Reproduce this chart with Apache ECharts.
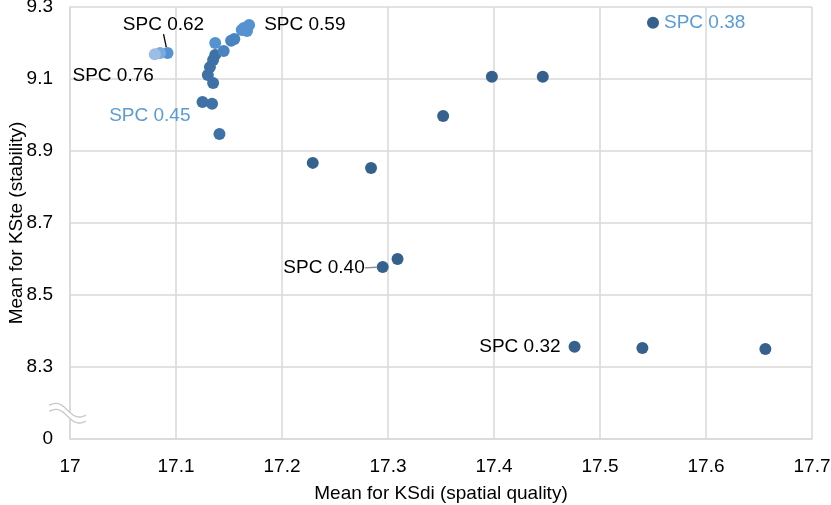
<!DOCTYPE html>
<html>
<head>
<meta charset="utf-8">
<script src="https://cdn.jsdelivr.net/npm/echarts@6/dist/echarts.min.js"></script>
<style>
  html, body { margin: 0; padding: 0; background: #fff; }
  #chart { width: 831px; height: 505px; }
</style>
</head>
<body>
<div id="chart"></div>
<script>
// mean KSdi (x) and mean KSte (y) per run
const ksdi = [17.229, 17.284, 17.295, 17.309, 17.352, 17.398, 17.446, 17.550, 17.476, 17.540, 17.656,
  17.141, 17.125, 17.134, 17.135, 17.130, 17.132, 17.135, 17.137, 17.145, 17.152, 17.155,
  17.137, 17.162, 17.164, 17.167, 17.169, 17.092, 17.085, 17.080];
const kste = [8.867, 8.853, 8.578, 8.600, 8.997, 9.106, 9.106, 9.256, 8.356, 8.353, 8.350,
  8.947, 9.036, 9.031, 9.089, 9.111, 9.133, 9.153, 9.167, 9.178, 9.206, 9.211,
  9.200, 9.236, 9.242, 9.233, 9.250, 9.172, 9.172, 9.169];
// shade group of each point (darker = lower SPC)
const shade = [0, 0, 0, 0, 0, 0, 0, 0, 0, 0, 0,
  1, 1, 1, 1, 1, 1, 1, 1, 2, 2, 2,
  3, 3, 3, 3, 3, 3, 4, 5];
const notes = ['', '', 'SPC 0.40', '', '', '', '', 'SPC 0.38', 'SPC 0.32', '', '',
  '', 'SPC 0.45', '', '', '', '', '', '', '', '', '',
  '', '', '', '', 'SPC 0.59', 'SPC 0.62', '', 'SPC 0.76'];

const xTicks = { min: 17, max: 17.7, step: 0.1 };
const yTicks = { min: 8.1, max: 9.3, step: 0.2, breakLabel: '0' };

const shadeColors = ['#35618c', '#3e71a5', '#4a84c0', '#5592d0', '#7ea9dd', '#9cbde6'];
const font = "'Liberation Sans', Arial, Helvetica, sans-serif";
const black = '#000';
const lightBlue = '#5b9bd5';

// where each note sits relative to its point
const notePlace = {
  'SPC 0.40': { position: 'left', distance: 3, color: black, dx: -9, dy: 1, line: '#8c8c8c' },
  'SPC 0.38': { position: 'right', distance: 5, color: lightBlue },
  'SPC 0.32': { position: 'left', distance: 8, color: black },
  'SPC 0.45': { position: 'left', distance: 6, color: lightBlue, dy: 14 },
  'SPC 0.59': { position: 'right', distance: 9, color: black },
  'SPC 0.62': { position: 'top', distance: 4, color: black, dx: -4, dy: -9, line: '#000' },
  'SPC 0.76': { position: 'left', distance: 5, color: black, dx: 10, dy: 22 }
};

const points = ksdi.map((x, i) => {
  const item = {
    value: [x, kste[i]],
    itemStyle: { color: shadeColors[shade[i]], opacity: 1 }
  };
  const n = notes[i];
  if (n) {
    const p = notePlace[n];
    item.label = {
      show: true,
      formatter: n,
      position: p.position,
      distance: p.distance,
      color: p.color,
      fontSize: 19,
      fontFamily: font
    };
    if (p.line) {
      item.labelLine = { show: true, length2: 0, lineStyle: { color: p.line, width: 1.3 } };
    }
  }
  return item;
});

const chart = echarts.init(document.getElementById('chart'));

chart.setOption({
  animation: false,
  backgroundColor: '#fff',
  textStyle: { fontFamily: font },
  grid: { left: 70, right: 19, top: 7, bottom: 66, outerBoundsMode: 'none' },
  xAxis: {
    type: 'value',
    min: xTicks.min,
    max: xTicks.max,
    interval: xTicks.step,
    name: 'Mean for KSdi (spatial quality)',
    nameLocation: 'middle',
    nameGap: 45,
    nameMoveOverlap: false,
    nameTextStyle: { color: '#000', fontSize: 19, fontFamily: font },
    axisLine: { show: true, lineStyle: { color: '#d9d9d9', width: 1.5 } },
    axisTick: { show: false },
    axisLabel: {
      color: '#000', fontSize: 19, fontFamily: font, margin: 18,
      formatter: v => String(+v.toFixed(1))
    },
    splitLine: { show: true, lineStyle: { color: '#d9d9d9', width: 1.5 } }
  },
  yAxis: {
    type: 'value',
    min: yTicks.min,
    max: yTicks.max,
    interval: yTicks.step,
    name: 'Mean for KSte (stability)',
    nameLocation: 'middle',
    nameGap: 44,
    nameMoveOverlap: false,
    nameTextStyle: { color: '#000', fontSize: 19, fontFamily: font },
    axisLine: { show: true, lineStyle: { color: '#d9d9d9', width: 1.5 } },
    axisTick: { show: false },
    axisLabel: {
      color: '#000', fontSize: 19, fontFamily: font, margin: 17,
      formatter: v => (v < yTicks.min + yTicks.step / 2 ? yTicks.breakLabel : v.toFixed(1))
    },
    splitLine: { show: true, lineStyle: { color: '#d9d9d9', width: 1.5 } }
  },
  series: [
    {
      type: 'scatter',
      symbolSize: 12,
      data: points,
      labelLayout: function (params) {
        const n = notes[params.dataIndex];
        const p = n && notePlace[n];
        if (p && (p.dx || p.dy)) return { dx: p.dx || 0, dy: p.dy || 0 };
        return {};
      }
    }
  ]
});

// axis break mark between the lowest tick and the data range
function drawBreak() {
  const mid = chart.convertToPixel({ gridIndex: 0 }, [xTicks.min, yTicks.min + yTicks.step * 0.4]);
  const cx = mid[0], cy = mid[1];
  const wave = (shift) => {
    const pts = [];
    for (let k = 0; k <= 24; k++) {
      const t = k / 24;
      pts.push([cx - 21 + 37 * t, cy - 5 + 10 * t - 4 * Math.sin(Math.PI * 2 * t) + shift]);
    }
    return pts;
  };
  const top = wave(0), bottom = wave(6);
  chart.setOption({
    graphic: [
      { type: 'polygon', shape: { points: top.concat(bottom.slice().reverse()) }, style: { fill: '#fff' }, z: 100 },
      { type: 'polyline', shape: { points: top }, style: { stroke: '#c8c8c8', lineWidth: 1.3, fill: null }, z: 101 },
      { type: 'polyline', shape: { points: bottom }, style: { stroke: '#c8c8c8', lineWidth: 1.3, fill: null }, z: 101 }
    ]
  });
}
drawBreak();
</script>
</body>
</html>
